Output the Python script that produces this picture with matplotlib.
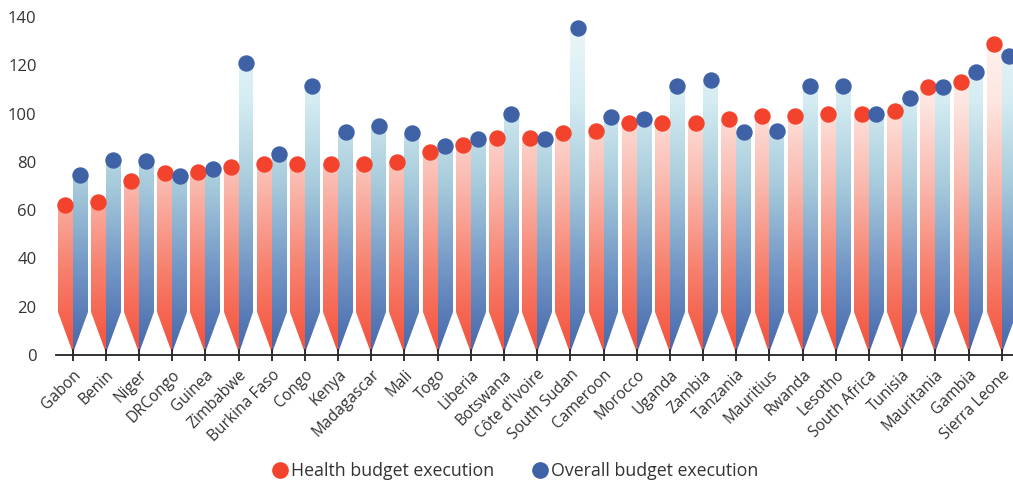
import numpy as np
import matplotlib
matplotlib.use('Agg')
import matplotlib.pyplot as plt
from matplotlib.path import Path
from matplotlib.patches import PathPatch
from matplotlib.colors import LinearSegmentedColormap
from matplotlib.lines import Line2D

plt.rcParams['font.family'] = ['Open Sans', 'DejaVu Sans']

countries = ['Gabon', 'Benin', 'Niger', 'DRCongo', 'Guinea', 'Zimbabwe', 'Burkina Faso',
             'Congo', 'Kenya', 'Madagascar', 'Mali', 'Togo', 'Liberia', 'Botswana',
             "Côte d'Ivoire", 'South Sudan', 'Cameroon', 'Morocco', 'Uganda', 'Zambia',
             'Tanzania', 'Mauritius', 'Rwanda', 'Lesotho', 'South Africa', 'Tunisia',
             'Mauritania', 'Gambia', 'Sierra Leone']
health = [62, 63.5, 72, 75.5, 76, 78, 79, 79, 79, 79, 80, 84, 87, 90, 90, 92, 93, 96,
          96, 96, 98, 99, 99, 100, 100, 101, 111, 113, 129]
overall = [74.5, 81, 80.5, 74, 77, 121, 83.5, 111.5, 92.5, 95, 92, 86.5, 89.5, 100,
           89.5, 135.5, 98.5, 98, 111.5, 114, 92.5, 93, 111.5, 111.5, 100, 106.5,
           111, 117.5, 124]

red_dot = '#F4432C'
blue_dot = '#3F62A7'
red_cmap = LinearSegmentedColormap.from_list(
    'red_fade', ['#F44F39', '#F7806D', '#FAB8AD', '#FDE6E1', '#FFF6F4'])
blue_cmap = LinearSegmentedColormap.from_list(
    'blue_fade', ['#4466AB', '#7296C5', '#A6CADB', '#D4ECF2', '#EEF8FA'])

w = 0.45        # bar width
taper = 18      # height where the point starts
tip = 1

fig = plt.figure(figsize=(10.13, 4.87), dpi=100)
ax = fig.add_axes([56 / 1013, 132 / 487, 957 / 1013, 345 / 487])


def bar_path(i, top, side):
    # side=-1: red bar left of the tick, side=+1: blue bar right of it
    xo = i + side * w
    verts = [(i, tip), (i, top), (xo, top), (xo, taper), (i, tip)]
    codes = [Path.MOVETO, Path.LINETO, Path.LINETO, Path.LINETO, Path.CLOSEPOLY]
    return Path(verts, codes)


x = np.arange(len(countries))
grad = np.linspace(0, 1, 256).reshape(-1, 1)

for vals, side, cmap in [(health, -1, red_cmap), (overall, 1, blue_cmap)]:
    path = Path.make_compound_path(*[bar_path(i, v, side) for i, v in zip(x, vals)])
    patch = PathPatch(path, facecolor='none', edgecolor='none', transform=ax.transData)
    ax.add_patch(patch)
    im = ax.imshow(grad, cmap=cmap, origin='lower', aspect='auto',
                   extent=(-0.5, 29, 0, 140), zorder=1)
    im.set_clip_path(patch)

ax.plot(x - w / 2, health, 'o', color=red_dot, markersize=10.8, zorder=3, clip_on=False)
ax.plot(x + w / 2, overall, 'o', color=blue_dot, markersize=10.8, zorder=3, clip_on=False)
ax.set_xlim(-0.5, 28.34)
ax.set_ylim(0, 143)

for s in ['top', 'right', 'left']:
    ax.spines[s].set_visible(False)
ax.spines['bottom'].set_color('#222222')
ax.spines['bottom'].set_linewidth(1.3)
ax.spines['bottom'].set_zorder(4)

ax.set_yticks(range(0, 141, 20))
ax.tick_params(axis='y', length=0, pad=14, labelsize=12, labelcolor='#333333')
ax.set_xticks(x)
ax.set_xticklabels(countries, rotation=45, ha='right', rotation_mode='anchor',
                   fontsize=11.2, color='#333333')
ax.tick_params(axis='x', direction='inout', length=9, width=1.3, color='#222222', pad=4)

handles = [Line2D([], [], marker='o', linestyle='none', color=red_dot, markersize=11),
           Line2D([], [], marker='o', linestyle='none', color=blue_dot, markersize=11)]
fig.legend(handles, ['Health budget execution', 'Overall budget execution'],
           loc='center', bbox_to_anchor=(514 / 1013, 1 - 471 / 487), ncol=2,
           frameon=False, fontsize=12.8, handletextpad=0.0, handlelength=1.2,
           columnspacing=2.0, labelcolor='#333333')

fig.savefig('out.png', dpi=100)
